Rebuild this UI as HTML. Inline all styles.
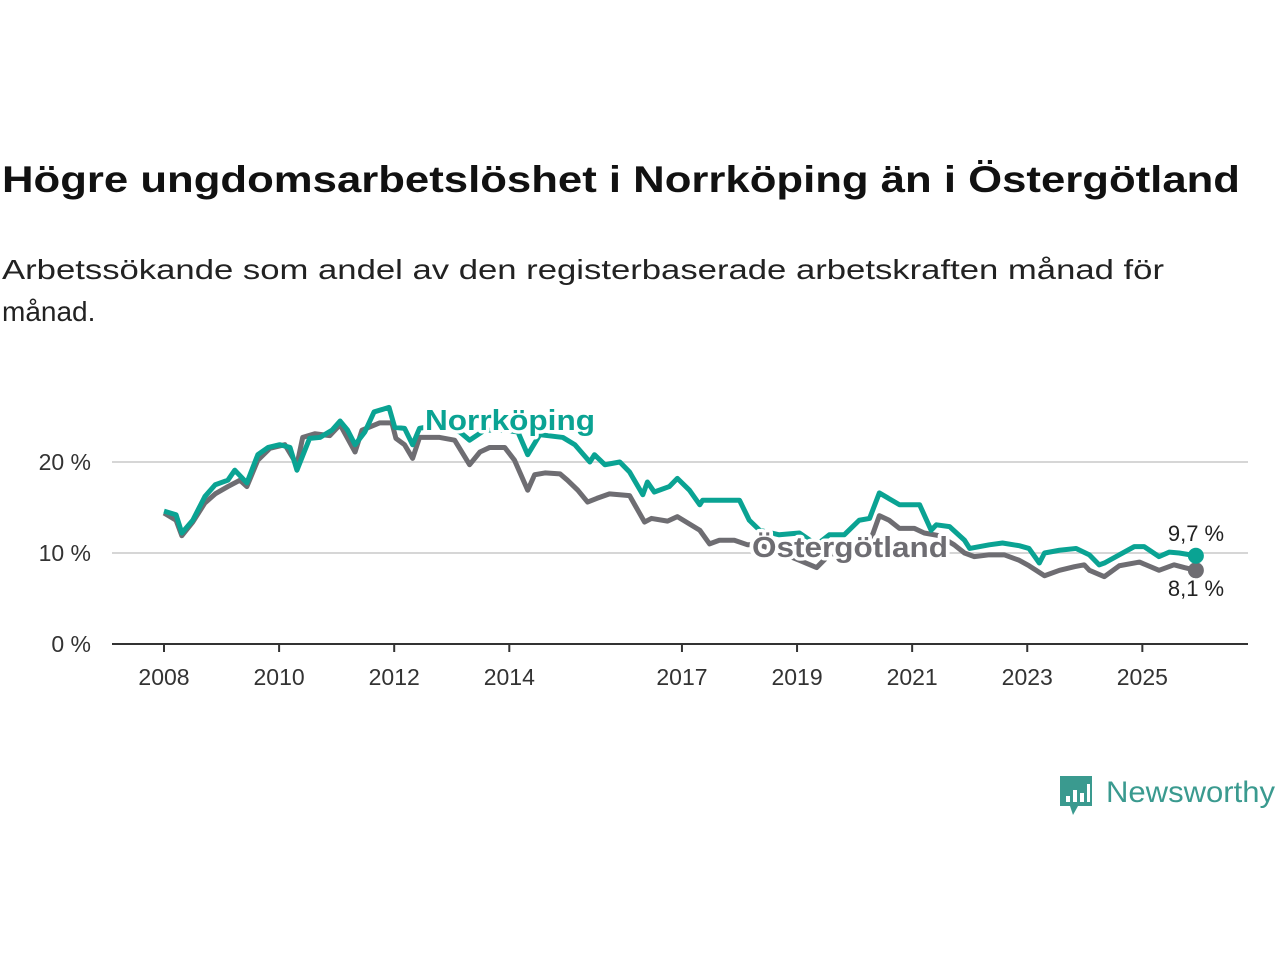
<!DOCTYPE html>
<html><head><meta charset="utf-8"><style>
html,body{margin:0;padding:0;background:#fff;}
svg{display:block;font-family:"Liberation Sans",sans-serif;}
</style></head><body>
<svg id="chart" width="1280" height="960" viewBox="0 0 1280 960">
<text x="2" y="192" font-size="37" font-weight="bold" fill="#111" textLength="1238" lengthAdjust="spacingAndGlyphs">Högre ungdomsarbetslöshet i Norrköping än i Östergötland</text>
<text x="2" y="279" font-size="28" fill="#222" textLength="1162" lengthAdjust="spacingAndGlyphs">Arbetssökande som andel av den registerbaserade arbetskraften månad för</text>
<text x="2" y="321" font-size="28" fill="#222">månad.</text>
<g id="grid"></g><g id="xaxis"></g><g id="lines"></g><g id="labels"></g>
<g>
<path d="M1060 776 h32 v30 h-14 l-5 9 l-3 -9 h-10 z" fill="#3a9a8f"/>
<rect x="1066" y="796" width="4" height="6" fill="#fff"/><rect x="1073" y="790" width="4" height="12" fill="#fff"/><rect x="1080" y="793" width="4" height="9" fill="#fff"/><rect x="1087" y="784" width="3" height="18" fill="#fff"/>
<text x="1106" y="802" font-size="30" fill="#3a9a8f" textLength="169" lengthAdjust="spacingAndGlyphs">Newsworthy</text>
</g>
</svg>
<script>
const yTicks=[0,10,20];
const xTickYears=[2008,2010,2012,2014,2017,2019,2021,2023,2025];
const norrDates=[2008.00,2008.21,2008.31,2008.50,2008.71,2008.89,2009.11,2009.23,2009.44,2009.63,2009.81,2010.01,2010.19,2010.31,2010.53,2010.71,2010.92,2011.06,2011.19,2011.32,2011.49,2011.65,2011.91,2012.01,2012.18,2012.32,2012.44,2012.79,2013.14,2013.31,2013.57,2013.92,2014.15,2014.32,2014.53,2014.93,2015.14,2015.40,2015.48,2015.66,2015.92,2016.09,2016.32,2016.40,2016.52,2016.78,2016.92,2017.13,2017.31,2017.36,2018.00,2018.17,2018.35,2018.69,2019.04,2019.34,2019.56,2019.82,2020.08,2020.26,2020.43,2020.78,2021.13,2021.33,2021.42,2021.65,2021.91,2022.00,2022.34,2022.57,2022.86,2023.03,2023.21,2023.30,2023.56,2023.85,2024.08,2024.25,2024.34,2024.60,2024.86,2025.03,2025.29,2025.47,2025.64,2025.93];
const norrValues=[14.6,14.2,12.2,13.6,16.2,17.5,18.0,19.1,17.7,20.8,21.6,21.9,21.6,19.1,22.6,22.7,23.5,24.5,23.5,21.9,23.3,25.5,26.0,23.8,23.7,21.9,23.7,24.1,23.3,22.4,23.5,23.5,23.3,20.8,23.0,22.7,21.9,20.0,20.8,19.7,20.0,18.9,16.4,17.8,16.7,17.3,18.2,16.9,15.3,15.8,15.8,13.6,12.5,12.0,12.2,10.9,12.0,12.0,13.6,13.8,16.6,15.3,15.3,12.5,13.1,12.9,11.4,10.5,10.9,11.1,10.8,10.5,8.9,10.0,10.3,10.5,9.8,8.7,8.9,9.8,10.7,10.7,9.6,10.1,10.0,9.7];
const ostDates=[2008.00,2008.21,2008.31,2008.50,2008.71,2008.89,2009.11,2009.32,2009.44,2009.63,2009.84,2010.10,2010.31,2010.41,2010.62,2010.88,2011.06,2011.32,2011.44,2011.75,2011.96,2012.03,2012.18,2012.32,2012.44,2012.79,2013.05,2013.31,2013.49,2013.66,2013.92,2014.09,2014.32,2014.44,2014.62,2014.88,2015.01,2015.19,2015.36,2015.52,2015.74,2016.09,2016.35,2016.47,2016.75,2016.92,2017.31,2017.48,2017.65,2017.91,2018.14,2018.35,2018.69,2019.04,2019.34,2019.56,2019.82,2020.08,2020.26,2020.43,2020.60,2020.78,2021.04,2021.21,2021.47,2021.73,2021.91,2022.08,2022.34,2022.60,2022.86,2023.03,2023.30,2023.56,2023.82,2023.99,2024.08,2024.34,2024.60,2024.95,2025.29,2025.55,2025.73,2025.93];
const ostValues=[14.4,13.6,11.9,13.4,15.5,16.5,17.3,18.0,17.3,20.2,21.5,21.9,19.7,22.7,23.1,22.9,24.1,21.1,23.5,24.3,24.3,22.6,21.9,20.4,22.7,22.7,22.4,19.7,21.1,21.6,21.6,20.2,16.9,18.6,18.8,18.7,18.0,16.9,15.6,16.0,16.5,16.3,13.4,13.8,13.5,14.0,12.5,11.0,11.4,11.4,10.9,10.9,10.1,9.2,8.4,9.8,10.3,10.9,11.1,14.1,13.6,12.7,12.7,12.2,11.9,10.9,10.0,9.6,9.8,9.8,9.2,8.6,7.5,8.1,8.5,8.7,8.1,7.4,8.6,9.0,8.1,8.7,8.4,8.1];
const NS="http://www.w3.org/2000/svg";
const X=yr=>164+(yr-2008)*57.55;
const Y=v=>644-v*9.1;
function mk(tag,attrs,parent){const e=document.createElementNS(NS,tag);for(const k in attrs)e.setAttribute(k,attrs[k]);parent.appendChild(e);return e;}
const grid=document.getElementById('grid');
yTicks.forEach(t=>{
  const l=mk('line',{x1:112,x2:1248,y1:Y(t),y2:Y(t),stroke:t===0?'#333':'#d6d6d6','stroke-width':2},grid);
  
  
  const tx=mk('text',{x:91,y:Y(t)+8,'font-size':23,fill:'#333','text-anchor':'end'},grid);
  tx.textContent=t+' %';
  
  
});
const xa=document.getElementById('xaxis');
xTickYears.forEach(yr=>{
  const l=mk('line',{x1:X(yr),x2:X(yr),y1:644,y2:652,stroke:'#333','stroke-width':2},xa);
  
  
  const tx=mk('text',{x:X(yr),y:685,'font-size':23,fill:'#333','text-anchor':'middle'},xa);
  tx.textContent=yr;
  
  
});
const lines=document.getElementById('lines');
function series(d,v,col,name){
  const p=mk('polyline',{points:d.map((yr,i)=>X(yr)+','+Y(v[i])).join(' '),fill:'none',stroke:col,'stroke-width':5,'stroke-linejoin':'round'},lines);
  
  
  const c=mk('circle',{cx:X(d[d.length-1]),cy:Y(v[v.length-1]),r:8,fill:col},lines);
  
  
}
series(ostDates,ostValues,'#6e6d72','ostergotland-line');
series(norrDates,norrValues,'#0aa393','norrkoping-line');
const lab=document.getElementById('labels');
function label(x,y,txt,col,name,size,weight,anchor,len){
  const t=mk('text',{x:x,y:y,'font-size':size,'font-weight':weight,fill:col,stroke:'#fff','stroke-width':weight==='bold'?7:5,'paint-order':'stroke','stroke-linejoin':'round','text-anchor':anchor},lab);
  if(len){t.setAttribute('textLength',len);t.setAttribute('lengthAdjust','spacingAndGlyphs');}
  t.textContent=txt;
  
  
}
label(425,430,'Norrköping','#0aa393','norrkoping-label',29,'bold','start',170);
label(752,557,'Östergötland','#6e6d72','ostergotland-label',29,'bold','start',196);
label(1196,541,(norrValues[norrValues.length-1]).toFixed(1).replace('.',',')+' %','#222','norrkoping-end-value',22,'normal','middle');
label(1196,596,(ostValues[ostValues.length-1]).toFixed(1).replace('.',',')+' %','#222','ostergotland-end-value',22,'normal','middle');
</script>
</body></html>
